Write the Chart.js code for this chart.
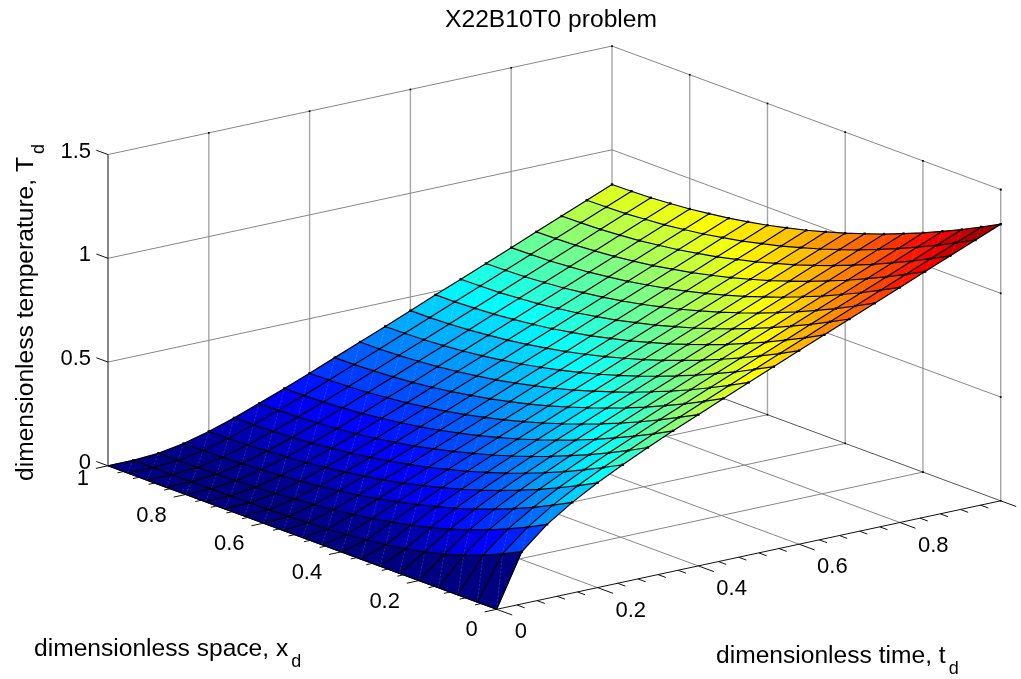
<!DOCTYPE html>
<html>
<head>
<meta charset="utf-8">
<title>X22B10T0 problem</title>
<script src="https://cdn.jsdelivr.net/npm/chart.js@4"></script>
<style>
html, body { margin: 0; padding: 0; background: #fff; }
#wrap { width: 1021px; height: 679px; }
</style>
</head>
<body>
<div id="wrap"><canvas id="myChart"></canvas></div>
<script>
const spaceValues = [0, 0.05, 0.1, 0.15, 0.2, 0.25, 0.3, 0.35, 0.4, 0.45, 0.5, 0.55, 0.6, 0.65, 0.7, 0.75, 0.8, 0.85, 0.9, 0.95, 1];
const timeValues = [0, 0.05, 0.1, 0.15, 0.2, 0.25, 0.3, 0.35, 0.4, 0.45, 0.5, 0.55, 0.6, 0.65, 0.7, 0.75, 0.8, 0.85, 0.9, 0.95, 1];
// one row per time value, one column per space value
const temperature = [
  [0, 0, 0, 0, 0, 0, 0, 0, 0, 0, 0, 0, 0, 0, 0, 0, 0, 0, 0, 0, 0],
  [.252, .206, .165, .130, .101, .077, .058, .043, .031, .022, .015, .011, .007, .005, .003, .002, .001, .001, 0, 0, 0],
  [.357, .309, .266, .227, .192, .161, .134, .111, .091, .074, .059, .047, .037, .030, .023, .018, .014, .011, .009, .008, .008],
  [.437, .389, .344, .303, .266, .232, .201, .174, .149, .128, .108, .092, .078, .066, .055, .047, .041, .036, .032, .030, .029],
  [.505, .457, .412, .370, .331, .295, .262, .232, .205, .180, .158, .139, .122, .107, .095, .084, .076, .070, .065, .062, .061],
  [.566, .518, .472, .429, .389, .352, .318, .287, .258, .232, .208, .187, .169, .152, .138, .127, .117, .110, .105, .102, .100],
  [.623, .574, .528, .485, .445, .407, .372, .340, .310, .283, .258, .236, .215, .198, .182, .170, .160, .153, .148, .145, .144],
  [.677, .628, .582, .539, .498, .460, .425, .392, .361, .334, .308, .286, .265, .247, .232, .219, .208, .200, .194, .191, .190],
  [.729, .681, .635, .591, .550, .512, .476, .443, .412, .384, .358, .335, .314, .296, .281, .267, .257, .248, .242, .239, .237],
  [.781, .732, .686, .643, .601, .563, .527, .494, .463, .434, .408, .385, .364, .346, .330, .316, .305, .297, .291, .287, .286],
  [.832, .783, .737, .693, .652, .614, .577, .544, .513, .484, .458, .435, .414, .395, .379, .366, .355, .346, .340, .336, .335],
  [.882, .834, .787, .744, .703, .664, .628, .594, .563, .534, .508, .485, .464, .445, .429, .415, .404, .395, .389, .386, .384],
  [.933, .884, .838, .794, .753, .714, .678, .644, .613, .585, .558, .535, .513, .495, .479, .465, .454, .445, .439, .435, .434],
  [.983, .934, .888, .844, .803, .764, .728, .695, .663, .635, .608, .585, .563, .545, .528, .515, .504, .495, .489, .485, .484],
  [1.033, .985, .938, .895, .853, .815, .778, .745, .713, .685, .658, .635, .613, .595, .578, .565, .553, .545, .538, .535, .533],
  [1.083, 1.035, .988, .945, .903, .865, .828, .795, .763, .735, .708, .685, .663, .645, .628, .615, .603, .595, .588, .585, .583],
  [1.133, 1.085, 1.038, .995, .953, .915, .878, .845, .813, .785, .758, .735, .713, .695, .678, .665, .653, .645, .638, .635, .633],
  [1.183, 1.135, 1.088, 1.045, 1.003, .965, .928, .895, .863, .835, .808, .785, .763, .745, .728, .715, .703, .695, .688, .685, .683],
  [1.233, 1.185, 1.138, 1.095, 1.053, 1.015, .978, .945, .913, .885, .858, .835, .813, .795, .778, .765, .753, .745, .738, .735, .733],
  [1.283, 1.235, 1.188, 1.145, 1.103, 1.065, 1.028, .995, .963, .935, .908, .885, .863, .845, .828, .815, .803, .795, .788, .785, .783],
  [1.333, 1.285, 1.238, 1.195, 1.153, 1.115, 1.078, 1.045, 1.013, .985, .958, .935, .913, .895, .878, .865, .853, .845, .838, .835, .833]
];
const spaceTicks = [0, 0.2, 0.4, 0.6, 0.8, 1];
const timeTicks = [0, 0.2, 0.4, 0.6, 0.8];
const tempTicks = [0, 0.5, 1, 1.5];
const minorTicks = [0, 0.04, 0.08, 0.12, 0.16, 0.2, 0.24, 0.28, 0.32, 0.36, 0.4, 0.44, 0.48, 0.52, 0.56, 0.6, 0.64, 0.68, 0.72, 0.76, 0.8, 0.84, 0.88, 0.92, 0.96, 1];

const titleText = 'X22B10T0 problem';
const fontName = '"Liberation Sans", Arial, sans-serif';

// view of the box, fixed orthographic like the matlab one
const view = { ox: 496.7, oy: 609.3, tx: 504, ty: -108.5, xx: -388.7, xy: -143.5, zy: -207.5 };

function project(x, t, z) {
  return {
    x: view.ox + t * view.tx + x * view.xx,
    y: view.oy + t * view.ty + x * view.xy + z * view.zy
  };
}

function jet(v) {
  const c = n => Math.round(255 * Math.min(1, Math.max(0, 1.5 - Math.abs(4 * v - n))));
  return 'rgb(' + c(3) + ',' + c(2) + ',' + c(1) + ')';
}

const gap = { x: null, y: null };
const datasets = [];

function addLines(segments, color, width, dash) {
  const data = [];
  segments.forEach(s => { data.push(...s, gap); });
  datasets.push({ data, showLine: true, borderColor: color, borderWidth: width, borderDash: dash || [], pointRadius: 0, fill: false, tension: 0 });
}

function addDots(points, radius) {
  datasets.push({ data: points, showLine: false, pointStyle: 'rect', pointRadius: radius, backgroundColor: '#000', borderWidth: 0 });
}

// box walls and floor
const uprights = [];
const gridLines = [];
const wallDots = [];
timeTicks.concat([1]).forEach(t => {
  if (t > 0) {
    uprights.push([project(1, t, 0), project(1, t, 1.5)]);
    wallDots.push(project(1, t, 1.5));
  }
});
spaceTicks.forEach(x => {
  if (x < 1) {
    uprights.push([project(x, 1, 0), project(x, 1, 1.5)]);
    wallDots.push(project(x, 1, 1.5));
    wallDots.push(project(x, 1, 0));
  }
});
tempTicks.forEach(z => {
  if (z > 0) {
    gridLines.push([project(1, 0, z), project(1, 1, z), project(0, 1, z)]);
    wallDots.push(project(0, 1, z));
  }
});
timeTicks.forEach(t => { if (t > 0) gridLines.push([project(0, t, 0), project(1, t, 0)]); });
spaceTicks.forEach(x => { if (x > 0 && x < 1) gridLines.push([project(x, 0, 0), project(x, 1, 0)]); });
addLines(uprights, '#a6a6a6', 1.4);
addLines(gridLines, '#868686', 1);
addLines([[project(1, 0, 0), project(1, 1, 0), project(0, 1, 0)]], '#555', 1);
addLines([[project(1, 0, 0), project(1, 0, 1.5)]], '#111', 1);
addLines([[project(1, 0, 0), project(0, 0, 0), project(0, 1, 0)]], '#111', 1);
addDots(wallDots, 1.2);

// tick marks
const tickLines = [];
minorTicks.forEach(v => {
  const major = Math.round(v * 100) % 20 === 0;
  tickLines.push([project(v, 0, 0), project(v, major ? -0.024 : -0.012, 0)]);
  tickLines.push([project(0, v, 0), project(major ? -0.04 : -0.02, v, 0)]);
});
tempTicks.forEach(z => tickLines.push([project(1, 0, z), project(1.03, 0, z)]));
addLines(tickLines, '#111', 1);

// surface faces, far corner first
for (let j = timeValues.length - 2; j >= 0; j--) {
  for (let i = spaceValues.length - 2; i >= 0; i--) {
    const corners = [
      project(spaceValues[i], timeValues[j], temperature[j][i]),
      project(spaceValues[i + 1], timeValues[j], temperature[j][i + 1]),
      project(spaceValues[i + 1], timeValues[j + 1], temperature[j + 1][i + 1]),
      project(spaceValues[i], timeValues[j + 1], temperature[j + 1][i])
    ];
    corners.push(corners[0]);
    datasets.push({
      data: corners,
      showLine: true,
      fill: 'shape',
      backgroundColor: jet(temperature[j][i] / 1.333),
      borderColor: jet(temperature[j][i] / 1.333),
      borderWidth: 0.4,
      pointRadius: 0,
      tension: 0
    });
  }
}

// faint triangle seams
const seams = [];
for (let j = 0; j < timeValues.length - 1; j++) {
  for (let i = 0; i < spaceValues.length - 1; i++) {
    seams.push([
      project(spaceValues[i], timeValues[j], temperature[j][i]),
      project(spaceValues[i + 1], timeValues[j + 1], temperature[j + 1][i + 1])
    ]);
  }
}
addLines(seams, 'rgba(255,255,255,0.25)', 0.6, [2.5, 1.5]);

// mesh
const mesh = [];
temperature.forEach((row, j) => mesh.push(row.map((z, i) => project(spaceValues[i], timeValues[j], z))));
spaceValues.forEach((x, i) => mesh.push(timeValues.map((t, j) => project(x, t, temperature[j][i]))));
addLines(mesh, '#000', 1.2);

const nodes = [];
temperature.forEach((row, j) => {
  if (j > 0) row.forEach((z, i) => nodes.push(project(spaceValues[i], timeValues[j], z)));
});
addDots(nodes, 1.7);

function drawLabel(ctx, text, sub, x, y, angle) {
  ctx.save();
  ctx.translate(x, y);
  ctx.rotate(angle);
  ctx.font = '24.6px ' + fontName;
  ctx.textAlign = 'left';
  ctx.textBaseline = 'alphabetic';
  ctx.fillText(text, 0, 0);
  const w = ctx.measureText(text).width;
  ctx.font = '18px ' + fontName;
  ctx.fillText(sub, w + 3, 11);
  ctx.restore();
}

const textPlugin = {
  id: 'boxText',
  afterDraw(chart) {
    const ctx = chart.ctx;
    const sx = chart.scales.x;
    const sy = chart.scales.y;
    const at = (x, t, z) => {
      const p = project(x, t, z);
      return { x: sx.getPixelForValue(p.x), y: sy.getPixelForValue(p.y) };
    };
    ctx.save();
    ctx.fillStyle = '#000';
    ctx.textBaseline = 'middle';
    ctx.font = '24.6px ' + fontName;
    ctx.textAlign = 'center';
    ctx.fillText(titleText, 551, 20);

    ctx.font = '22px ' + fontName;
    ctx.textAlign = 'right';
    tempTicks.forEach(z => {
      const p = at(1, 0, z);
      ctx.fillText(String(z), p.x - 17, p.y - 3);
    });
    spaceTicks.forEach(x => {
      const p = at(x, 0, 0);
      ctx.fillText(String(x), p.x - 19, p.y + (x === 1 ? 13 : 21));
    });
    ctx.textAlign = 'left';
    timeTicks.forEach(t => {
      const p = at(0, t, 0);
      ctx.fillText(String(t), p.x + 18, p.y + 23);
    });
    ctx.restore();

    ctx.fillStyle = '#000';
    drawLabel(ctx, 'dimensionless space, x', 'd', 34, 656, 0);
    drawLabel(ctx, 'dimensionless time, t', 'd', 716, 663, 0);
    drawLabel(ctx, 'dimensionless temperature, T', 'd', 33, 481, -Math.PI / 2);
  }
};

const ctx = document.getElementById('myChart').getContext('2d');
const myChart = new Chart(ctx, {
  type: 'scatter',
  data: { datasets: datasets.reverse() },
  options: {
    responsive: true,
    maintainAspectRatio: false,
    animation: false,
    events: [],
    layout: { padding: 0, autoPadding: false },
    plugins: { legend: { display: false }, tooltip: { enabled: false }, title: { display: false } },
    scales: {
      x: { type: 'linear', min: 0, max: 1021, display: false },
      y: { type: 'linear', min: 0, max: 679, reverse: true, display: false }
    }
  },
  plugins: [textPlugin]
});
</script>
</body>
</html>
